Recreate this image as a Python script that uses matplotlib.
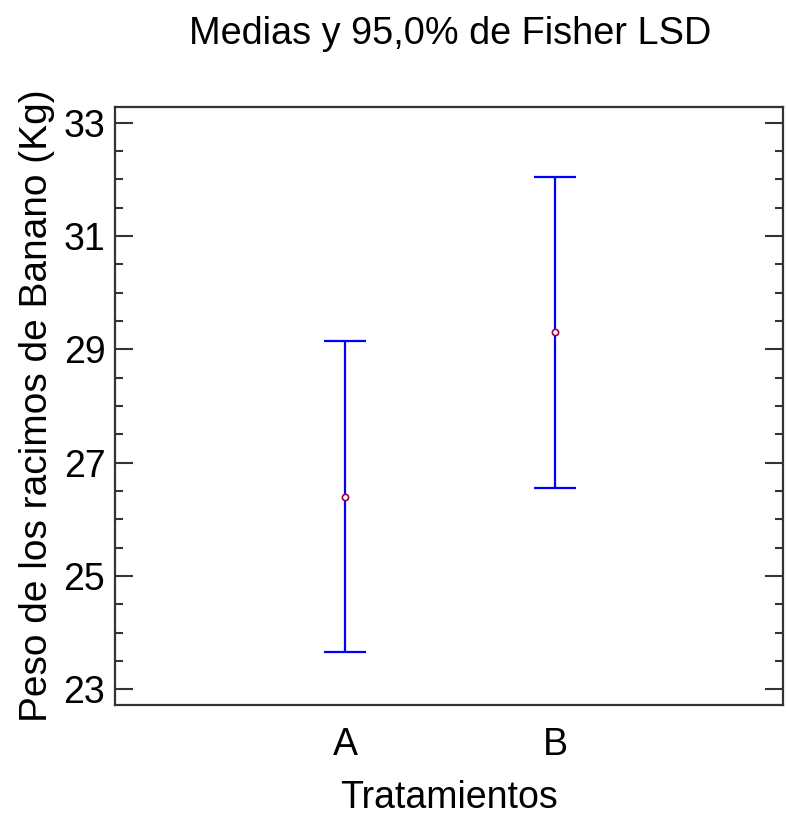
import matplotlib.pyplot as plt
import numpy as np

plt.rcParams['font.family'] = ['Liberation Sans', 'DejaVu Sans']

# Medias y límites del intervalo LSD (95%)
tratamientos = ['A', 'B']
medias = [26.40, 29.30]
inferior = [23.65, 26.55]
superior = [29.15, 32.05]

x = np.arange(len(tratamientos))
medias = np.array(medias)
err = [medias - np.array(inferior), np.array(superior) - medias]

fig = plt.figure(figsize=(7.86, 8.17), dpi=100)
ax = fig.add_axes([115 / 786, 1 - 705 / 817, 668 / 786, 598 / 817])

ax.errorbar(x, medias, yerr=err, fmt='none', ecolor='#0000ff', elinewidth=1.6,
            capsize=15, capthick=1.6)
ax.plot(x, medias, 'o', ms=4.5, mfc='white', mec='#a00040', mew=1.2)

ax.set_xlim(-1.095, 2.086)
ax.set_ylim(22.72, 33.28)
ax.set_yticks(np.arange(23, 34, 2))
ax.set_yticks(np.arange(23, 33.1, 0.5), minor=True)
ax.set_xticks(x)
ax.set_xticklabels(tratamientos)
ax.tick_params(axis='y', which='both', direction='in', left=True, right=True, labelsize=27,
               width=1.5, color='#333333', pad=7)
ax.tick_params(axis='y', which='major', length=13)
ax.tick_params(axis='y', which='minor', length=6)
ax.tick_params(axis='x', length=0, labelsize=27, pad=16)
for s in ax.spines.values():
    s.set_linewidth(1.6)
    s.set_color('#333333')

ax.set_xlabel('Tratamientos', fontsize=27, labelpad=12)
ax.set_ylabel('Peso de los racimos de Banano (Kg)', fontsize=28, labelpad=6)
fig.text(450 / 786, 1 - 34 / 817, 'Medias y 95,0% de Fisher LSD', fontsize=27.3,
         ha='center', va='center')

fig.savefig('out.png', dpi=100)
